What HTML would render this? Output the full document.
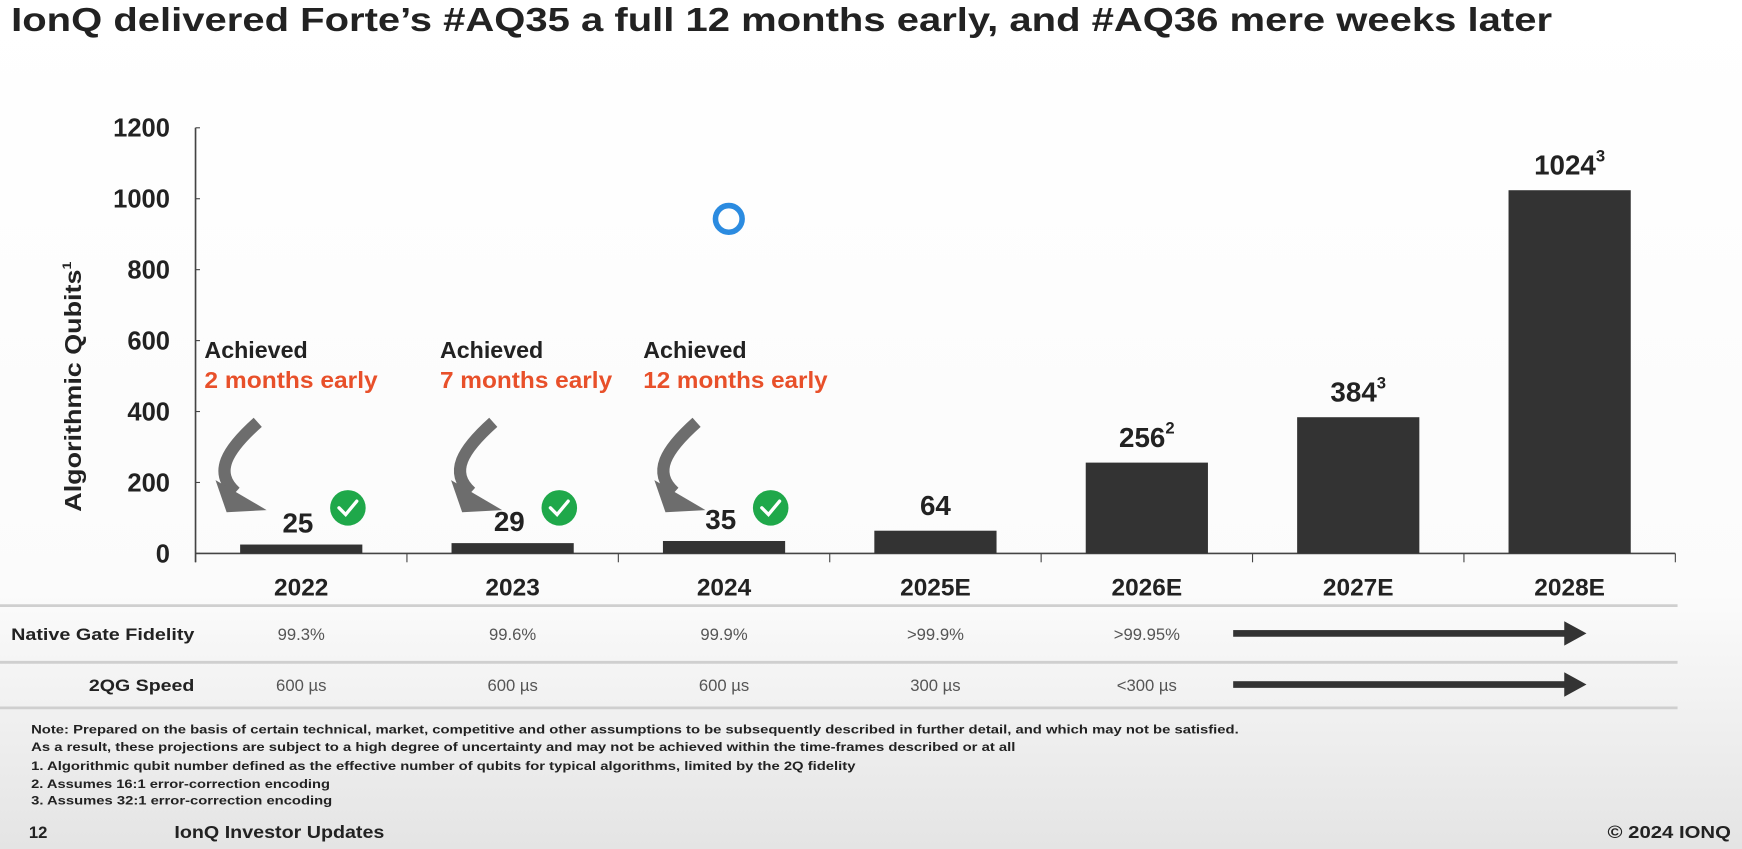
<!DOCTYPE html>
<html><head><meta charset="utf-8"><style>
html,body{margin:0;padding:0;width:1742px;height:849px;overflow:hidden;background:#fff}
svg{display:block;font-family:"Liberation Sans",sans-serif}
</style></head><body>
<svg id="c" width="1742" height="849" viewBox="0 0 1568 764" preserveAspectRatio="none">
<defs><linearGradient id="bg" x1="0" y1="0" x2="0" y2="1">
<stop offset="0" stop-color="#ffffff"/><stop offset="0.7" stop-color="#fbfbfb"/><stop offset="1" stop-color="#e4e4e4"/></linearGradient></defs>
<rect x="0" y="0" width="1568" height="764" fill="url(#bg)"/>
<text x="10" y="28" font-size="30" font-weight="bold" fill="#222" textLength="1387" lengthAdjust="spacingAndGlyphs">IonQ delivered Forte’s #AQ35 a full 12 months early, and #AQ36 mere weeks later</text>
<text transform="translate(73,348) rotate(-90)" text-anchor="middle" font-size="21" font-weight="bold" fill="#222" textLength="225" lengthAdjust="spacingAndGlyphs">Algorithmic Qubits<tspan font-size="11" dy="-9">1</tspan></text>
<g id="axes"></g>
<g id="marks"></g>
<circle cx="656" cy="197" r="12" fill="none" stroke="#2b8be0" stroke-width="5"/>
<g id="table"></g>
<g font-size="11" font-weight="bold" fill="#222" lengthAdjust="spacingAndGlyphs">
<text x="28" y="660" textLength="1087" lengthAdjust="spacingAndGlyphs">Note: Prepared on the basis of certain technical, market, competitive and other assumptions to be subsequently described in further detail, and which may not be satisfied.</text>
<text x="28" y="676" textLength="886" lengthAdjust="spacingAndGlyphs">As a result, these projections are subject to a high degree of uncertainty and may not be achieved within the time-frames described or at all</text>
<text x="28" y="693" textLength="742" lengthAdjust="spacingAndGlyphs">1. Algorithmic qubit number defined as the effective number of qubits for typical algorithms, limited by the 2Q fidelity</text>
<text x="28" y="709" textLength="269" lengthAdjust="spacingAndGlyphs">2. Assumes 16:1 error-correction encoding</text>
<text x="28" y="724" textLength="271" lengthAdjust="spacingAndGlyphs">3. Assumes 32:1 error-correction encoding</text>
</g>
<text x="26" y="754" font-size="15" font-weight="bold" fill="#222">12</text>
<text x="157" y="754" font-size="16" font-weight="bold" fill="#222" textLength="189" lengthAdjust="spacingAndGlyphs">IonQ Investor Updates</text>
<text x="1558" y="754" text-anchor="end" font-size="16" font-weight="bold" fill="#222" textLength="111" lengthAdjust="spacingAndGlyphs">© 2024 IONQ</text>
</svg>
<script>
const categories=["2022","2023","2024","2025E","2026E","2027E","2028E"];
const values=[25,29,35,64,256,384,1024];
const valueLabels=["25","29","35","64","256","384","1024"];
const superscripts=["","","","","2","3","3"];
const yTicks=[0,200,400,600,800,1000,1200];
const achievedNotes=["2 months early","7 months early","12 months early"];
const fidelity=["99.3%","99.6%","99.9%",">99.9%",">99.95%"];
const speed=["600 µs","600 µs","600 µs","300 µs","<300 µs"];

const NS="http://www.w3.org/2000/svg";
const X0=176,X1=1508,Y0=498,Y1=115,YMAX=1200;
const band=(X1-X0)/categories.length;
const xc=i=>X0+band*(i+0.5);
const y=v=>Y0-(v/YMAX)*(Y0-Y1);
function mk(tag,attrs,parent,text){const e=document.createElementNS(NS,tag);for(const k in attrs)e.setAttribute(k,attrs[k]);if(text!==undefined)e.textContent=text;parent.appendChild(e);return e;}
const axes=document.getElementById('axes'),marks=document.getElementById('marks'),table=document.getElementById('table');

let yl=mk('line',{x1:X0,y1:y(YMAX),x2:X0,y2:Y0+8,stroke:'#444','stroke-width':1.5},axes);


let xl=mk('line',{x1:X0,y1:Y0,x2:X1,y2:Y0,stroke:'#444','stroke-width':1.5},axes);


yTicks.forEach(t=>{
  mk('line',{x1:X0,y1:y(t),x2:X0+4,y2:y(t),stroke:'#444'},axes);
  const tl=mk('text',{x:153,y:y(t)+8,'text-anchor':'end','font-size':23,'font-weight':'bold',fill:'#222'},axes,String(t));
  
  
});
for(let i=0;i<=categories.length;i++){mk('line',{x1:X0+band*i,y1:Y0,x2:X0+band*i,y2:Y0+8,stroke:'#444'},axes);}
categories.forEach((c,i)=>{
  const t=mk('text',{x:xc(i),y:536,'text-anchor':'middle','font-size':22,'font-weight':'bold',fill:'#222'},axes,c);
  
  
});
const bw=110;
values.forEach((v,i)=>{
  const r=mk('rect',{x:xc(i)-bw/2,y:y(v),width:bw,height:Y0-y(v),fill:'#333'},marks);
  
  
  const small=i<3;
  const lx=small?xc(i)-3:xc(i);
  const ly=small?y(v)-11:y(v)-14;
  const t=mk('text',{x:lx,y:ly,'text-anchor':'middle','font-size':25,'font-weight':'bold',fill:'#222'},marks,valueLabels[i]);
  if(superscripts[i]){mk('tspan',{'font-size':15,dy:-12},t,superscripts[i]);}
  
  
});
achievedNotes.forEach((n,i)=>{
  const ax=[184,396,579][i];
  const g=mk('g',{},marks);
  
  
  mk('text',{x:ax,y:322,'font-size':21,'font-weight':'bold',fill:'#222',textLength:93,lengthAdjust:'spacingAndGlyphs'},g,'Achieved');
  mk('text',{x:ax,y:349,'font-size':21,'font-weight':'bold',fill:'#e8502a',textLength:[156,155,166][i],lengthAdjust:'spacingAndGlyphs'},g,n);
  const sx=ax+48;
  mk('path',{d:`M${sx} 380 C${sx-28} 405 ${sx-40} 425 ${sx-20} 443`,fill:'none',stroke:'#6d6d6d','stroke-width':11},g);
  mk('polygon',{points:`${sx-38} 432 ${sx+8} 459 ${sx-28} 461`,fill:'#6d6d6d'},g);
  const cx=xc(i)+42, cy=457;
  const ck=mk('g',{},marks);
  
  
  mk('circle',{cx:cx,cy:cy,r:16,fill:'#1fa84a'},ck);
  mk('path',{d:`M${cx-8} ${cy} L${cx-2} ${cy+6} L${cx+8} ${cy-6}`,fill:'none',stroke:'#fff','stroke-width':3,'stroke-linecap':'round'},ck);
});
[545,596,637].forEach(ly=>{mk('line',{x1:0,y1:ly,x2:1510,y2:ly,stroke:'#cfcfcf','stroke-width':2.5},table);});
function row(label,vals,ty,name){
  const g=mk('g',{},table);
  
  
  const lw=name==='fidelity-row'?165:95;
  mk('text',{x:175,y:ty,'text-anchor':'end','font-size':15,'font-weight':'bold',fill:'#222',textLength:lw,lengthAdjust:'spacingAndGlyphs'},g,label);
  vals.forEach((v,i)=>mk('text',{x:xc(i),y:ty,'text-anchor':'middle','font-size':15,fill:'#555'},g,v));
  mk('rect',{x:1110,y:ty-9,width:300,height:6,fill:'#333'},g);
  mk('polygon',{points:`1408 ${ty-17} 1428 ${ty-6} 1408 ${ty+5}`,fill:'#333'},g);
}
row('Native Gate Fidelity',fidelity,576,'fidelity-row');
row('2QG Speed',speed,622,'speed-row');
</script>
</body></html>
